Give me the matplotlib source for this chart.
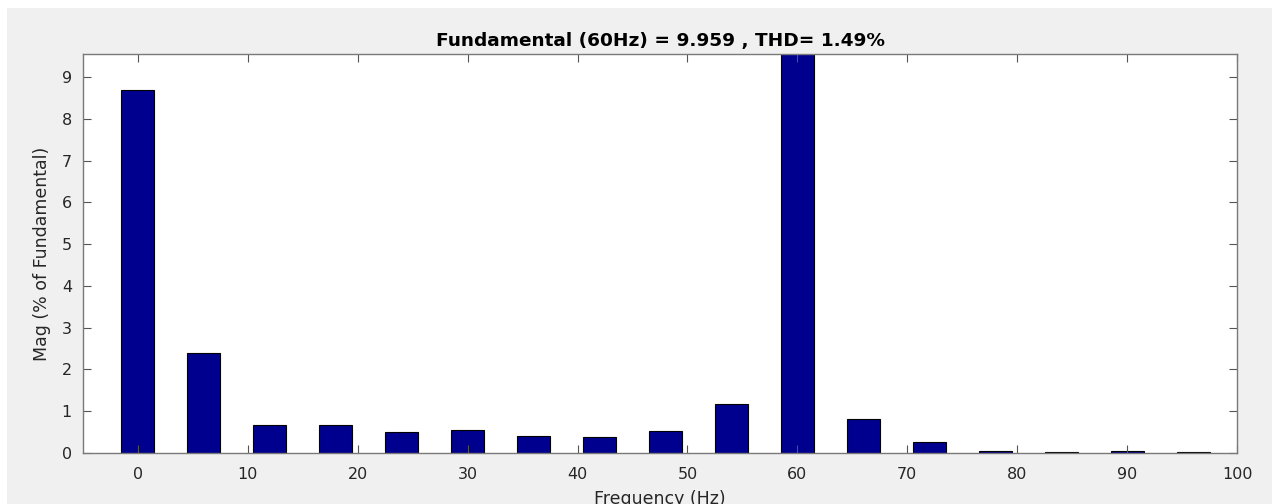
import matplotlib
matplotlib.use("Agg")
import matplotlib.pyplot as plt
from matplotlib.patches import Rectangle
import numpy as np

# harmonic spectrum, 6 Hz bins
freqs = [0, 6, 12, 18, 24, 30, 36, 42, 48, 54, 60, 66, 72, 78, 84, 90, 96]
mags = [8.68, 2.40, 0.68, 0.66, 0.50, 0.55, 0.41, 0.38, 0.53, 1.17,
        100.0, 0.82, 0.26, 0.05, 0.03, 0.05, 0.03]
xticks = [0, 10, 20, 30, 40, 50, 60, 70, 80, 90, 100]
yticks = [0, 1, 2, 3, 4, 5, 6, 7, 8, 9]
title = "Fundamental (60Hz) = 9.959 , THD= 1.49%"

plt.rcParams['font.family'] = ['DejaVu Sans']

fig = plt.figure(figsize=(12.72, 5.04), dpi=100, facecolor='white')
# grey MATLAB figure panel
fig.patches.append(Rectangle((7 / 1272, 0), 1265 / 1272, 496 / 504,
                             transform=fig.transFigure, facecolor='#f0f0f0',
                             edgecolor='none', zorder=-1))

ax = fig.add_axes([83 / 1272, 51 / 504, 1154 / 1272, 399 / 504])
ax.bar(freqs, mags, width=3.0, color='#00008f', edgecolor='black', linewidth=0.8)

ax.set_xlim(-5, 100)
ax.set_ylim(0, 9.55)
ax.set_xticks(xticks)
ax.set_yticks(yticks)
ax.tick_params(direction='in', top=True, right=True, length=6, width=0.8,
               colors='#555555', labelcolor='#262626', labelsize=11.5, pad=8)
ax.tick_params(axis='x', pad=10)
for s in ax.spines.values():
    s.set_color('#7a7a7a')
    s.set_linewidth(1.0)

ax.set_title(title, fontsize=13.3, fontweight='bold', pad=6)
ax.set_xlabel("Frequency (Hz)", fontsize=12.5, color='#262626', labelpad=6)
ax.set_ylabel("Mag (% of Fundamental)", fontsize=12.5, color='#262626', labelpad=8)

fig.savefig("out.png", dpi=100, facecolor=fig.get_facecolor())
